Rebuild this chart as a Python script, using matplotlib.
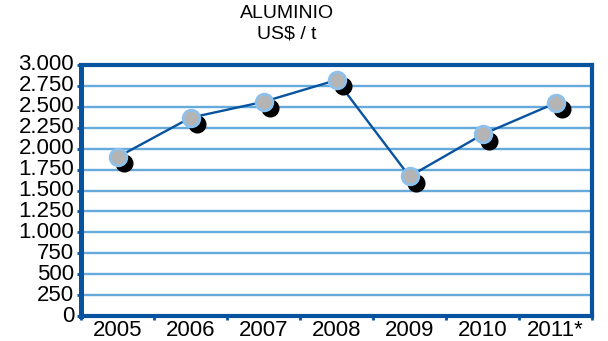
import matplotlib
matplotlib.use("Agg")
import matplotlib.pyplot as plt
import matplotlib.transforms as mtransforms
import numpy as np

# datos
years = ["2005", "2006", "2007", "2008", "2009", "2010", "2011*"]
prices = [1898, 2370, 2560, 2820, 1668, 2170, 2545]
yticks = [0, 250, 500, 750, 1000, 1250, 1500, 1750, 2000, 2250, 2500, 2750, 3000]

DARK = "#07539f"
GRID = "#66aadc"

plt.rcParams["font.family"] = ["Liberation Sans", "DejaVu Sans"]

fig = plt.figure(figsize=(6.08, 3.41), dpi=100)
ax = fig.add_axes([81 / 608, 1 - 316 / 341, 511 / 608, 251 / 341])

x = np.arange(len(years))

for v in yticks[1:-1]:
    ax.axhline(v, color=GRID, lw=1.7, zorder=1)

ax.plot(x, prices, color=DARK, lw=1.7, zorder=2)

shadow = mtransforms.offset_copy(ax.transData, fig=fig, x=4.5, y=-4.5, units="points")
ax.plot(x, prices, "o", ms=12, color="black", mec="black", transform=shadow, zorder=3)
ax.plot(x, prices, "o", ms=12, color="#b4b4b4", mec="#8dc0ea", mew=2, zorder=4)

ax.set_xlim(-0.5, len(years) - 0.5)
ax.set_ylim(0, 3000)
ax.set_yticks(yticks)
ax.set_yticklabels([f"{v:,}".replace(",", ".") for v in yticks])
ax.set_xticks(x)
ax.set_xticklabels(years)
ax.set_xticks(np.arange(len(years) + 1) - 0.5, minor=True)
ax.tick_params(axis="x", which="major", length=0, labelsize=16, pad=3)
ax.tick_params(axis="x", which="minor", length=3, width=2, color=DARK, direction="out")
ax.tick_params(axis="y", length=3, width=2, color=DARK, labelsize=16, pad=2)
for lab in ax.get_yticklabels():
    lab.set_va("center")

for side in ["bottom", "top", "right"]:
    ax.spines[side].set_color(DARK)
    ax.spines[side].set_linewidth(3.0)
ax.spines["left"].set_color(DARK)
ax.spines["left"].set_linewidth(3.6)

fig.text(287 / 608, 1 - 5 / 341, "ALUMINIO\nUS$ / t", ha="center", va="top",
         fontsize=14, linespacing=1.3)

fig.savefig("out.png", dpi=100)
